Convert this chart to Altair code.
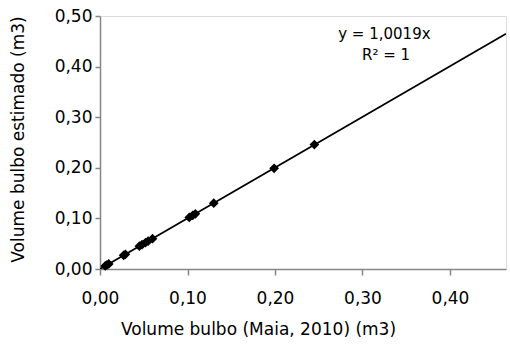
import altair as alt
import pandas as pd

# observed points: Volume bulbo (Maia, 2010) vs Volume bulbo estimado (m3)
x_vals = [0.006, 0.008, 0.010, 0.027, 0.029, 0.045, 0.048, 0.052, 0.055, 0.060,
          0.102, 0.106, 0.109, 0.130, 0.199, 0.245]
y_vals = [0.006, 0.008, 0.010, 0.027, 0.029, 0.045, 0.048, 0.052, 0.055, 0.060,
          0.102, 0.106, 0.109, 0.130, 0.199, 0.246]

slope = 1.0019
trend_x = [0.0, 0.464]
trend_y = [slope * v for v in trend_x]

eq_text = ["y = 1,0019x", "R² = 1"]
eq_x = [0.325, 0.327]
eq_y = [0.464, 0.423]

x_ticks = [0.0, 0.1, 0.2, 0.3, 0.4]
y_ticks = [0.0, 0.1, 0.2, 0.3, 0.4, 0.5]

FONT = "DejaVu Sans"
GRAY = "#868686"
FS = 17

pts = pd.DataFrame({"x": x_vals, "y": y_vals})
trend = pd.DataFrame({"x": trend_x, "y": trend_y})
eq = pd.DataFrame({"x": eq_x, "y": eq_y, "t": eq_text})

label_expr = "replace(format(datum.value, '.2f'), '.', ',')"

xs = alt.Scale(domain=[0, 0.464], nice=False, zero=True)
ys = alt.Scale(domain=[0, 0.5], nice=False)

common = dict(grid=False, domainColor=GRAY, tickColor=GRAY, domainWidth=1.5, tickWidth=1.5,
              labelFont=FONT, titleFont=FONT, labelFontSize=FS, titleFontSize=FS,
              titleFontWeight="normal", labelColor="#000", titleColor="#000",
              labelFlush=False, labelOverlap=False)

x_enc = alt.X("x:Q", scale=xs, axis=alt.Axis(
    values=x_ticks, labelExpr=label_expr, title="Volume bulbo (Maia, 2010) (m3)",
    tickSize=6, labelPadding=15, titlePadding=15, titleX=158, titleAlign="center", **common))
y_enc = alt.Y("y:Q", scale=ys, axis=alt.Axis(
    values=y_ticks, labelExpr=label_expr, title="Volume bulbo estimado (m3)",
    tickSize=5, labelPadding=3, titleX=-82, titleY=123, titleAlign="center",
    titleBaseline="middle", **common))

line = alt.Chart(trend).mark_line(color="black", strokeWidth=1.8, clip=True).encode(x=x_enc, y=y_enc)
points = alt.Chart(pts).mark_point(shape="diamond", filled=True, color="black", size=95, opacity=1).encode(x="x:Q", y="y:Q")
text = alt.Chart(eq).mark_text(font=FONT, fontSize=15, color="#000", align="center", baseline="middle").encode(
    x="x:Q", y="y:Q", text="t:N")

chart = alt.layer(line, points, text).properties(
    width=406, height=253,
    autosize=alt.AutoSizeParams(type="none"),
    padding={"left": 100, "top": 16, "right": 4, "bottom": 80},
).configure_view(stroke=None).configure(background="white")

chart.save("out.html", embed_options={"renderer": "svg", "actions": False})
